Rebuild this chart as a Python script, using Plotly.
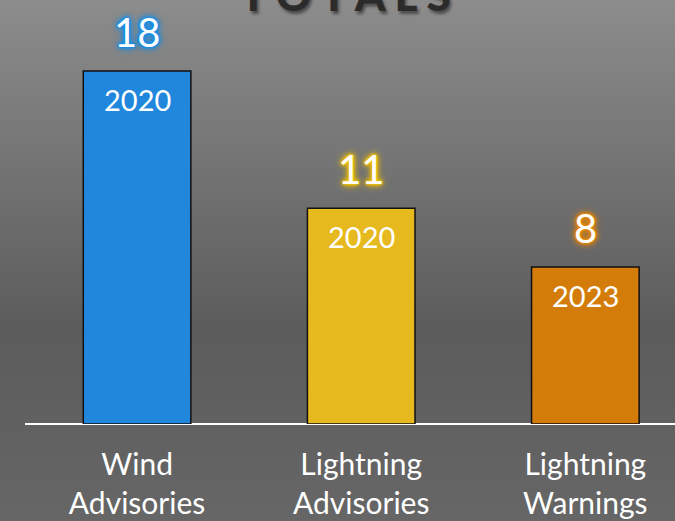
import plotly.graph_objects as go

categories = ["Wind<br>Advisories", "Lightning<br>Advisories", "Lightning<br>Warnings"]
values = [18, 11, 8]
years = ["2020", "2020", "2023"]
bar_colors = ["#2087dd", "#e6b91f", "#d37c09"]
glow_colors = ["#0d8ff0", "#f5c400", "#ee8800"]
title_text = "T O T A L S"

W, H = 675, 521
ML, MR, MT, MB = 25, 0, 0, 97
plot_h = H - MT - MB
plot_w = W - ML - MR

fig = go.Figure()
fig.add_trace(go.Bar(
    x=categories, y=values,
    marker=dict(color=bar_colors, line=dict(color="#111111", width=1.5)),
    width=0.48, hoverinfo="skip",
))

# gradient background bands
def grey_at(Y):
    stops = [(0, 140), (330, 92), (521, 102)]
    for (y0, c0), (y1, c1) in zip(stops[:-1], stops[1:]):
        if y0 <= Y <= y1:
            return c0 + (c1 - c0) * (Y - y0) / (y1 - y0)
    return stops[-1][1]

shapes = []
step = 6
for Y in range(0, H, step):
    g = int(round(grey_at(Y + step / 2)))
    shapes.append(dict(
        type="rect", xref="paper", yref="paper", layer="below",
        x0=-ML / plot_w - 0.01, x1=1.01,
        y0=(plot_h - (Y + step + 1)) / plot_h, y1=(plot_h - Y) / plot_h,
        fillcolor=f"rgb({g},{g},{g})", line=dict(width=0),
    ))
fig.update_layout(shapes=shapes)

annotations = []
for i, (c, v, yr, gc) in enumerate(zip(categories, values, years, glow_colors)):
    annotations.append(dict(
        x=c, y=v, xref="x", yref="y", text=str(v), showarrow=False,
        yanchor="bottom", yshift=13,
        font=dict(family="Lato", size=40, color="white",
                  shadow=(f"0 0 1px {gc}, 0 0 2px {gc}, 0 0 3px {gc}, "
                          f"0 0 4px {gc}, 0 0 6px {gc}, 0 0 8px {gc}")),
    ))
    annotations.append(dict(
        x=c, y=v, xref="x", yref="y", text=yr, showarrow=False,
        yanchor="top", yshift=-9,
        font=dict(family="Lato", size=29, color="white"),
    ))
annotations.append(dict(
    x=0.493, y=1, xref="paper", yref="paper", text=title_text, showarrow=False,
    yanchor="bottom", yshift=-22,
    font=dict(family="Lato", size=44, color="#2b2b2b", weight=900,
              shadow="2px 3px 3px rgba(0,0,0,0.45)"),
))
fig.update_layout(annotations=annotations)

fig.update_layout(
    width=W, height=H,
    margin=dict(l=ML, r=MR, t=MT, b=MB, autoexpand=False),
    paper_bgcolor="#666666", plot_bgcolor="rgba(0,0,0,0)",
    showlegend=False,
    bargap=0.52,
    xaxis=dict(range=[-0.5, 2.4], showgrid=False, zeroline=False,
               showline=False, ticks="", ticklabelstandoff=20, automargin=False,
               tickfont=dict(family="Lato", size=30, color="white")),
    yaxis=dict(range=[0, plot_h / (353 / 18)], showgrid=False, zeroline=True,
               zerolinecolor="white", zerolinewidth=2, automargin=False,
               showticklabels=False, ticks="", showline=False),
)

fig.write_html(
    "out.html",
    config={"displayModeBar": False},
    post_script="document.body.style.margin='0';document.body.style.overflow='hidden';",
)
